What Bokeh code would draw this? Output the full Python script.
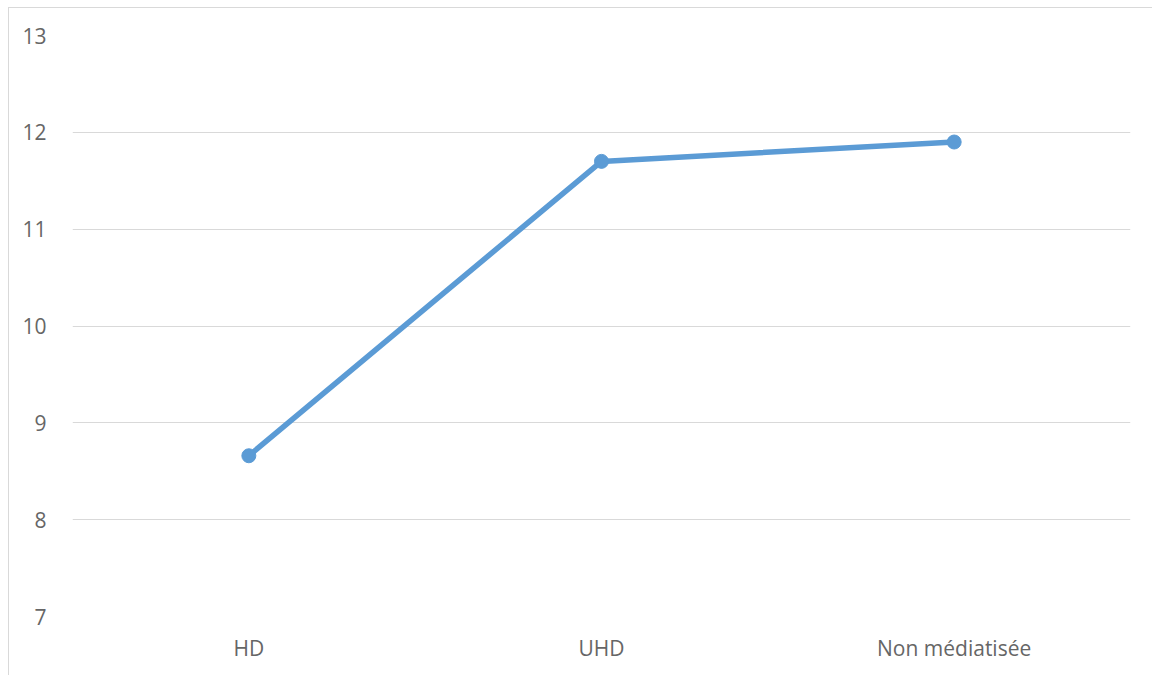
from bokeh.plotting import figure
from bokeh.models import FactorRange, Range1d, FixedTicker
from bokeh.embed import file_html
from bokeh.resources import INLINE

categories = ["HD", "UHD", "Non médiatisée"]
values = [8.66, 11.70, 11.90]
y_ticks = [7, 8, 9, 10, 11, 12, 13]

p = figure(x_range=FactorRange(*categories, range_padding=0),
           y_range=Range1d(7, 13),
           width=1144, height=668, output_backend="svg", toolbar_location=None,
           min_border_left=63, min_border_right=23, min_border_top=27, min_border_bottom=60)
p.margin = (7, 0, 0, 8)
p.styles = {"border-left": "1px solid #d9d9d9", "border-top": "1px solid #d9d9d9"}

p.line(categories, values, line_color="#5B9BD5", line_width=5.5)
p.scatter(categories, values, size=14, fill_color="#5B9BD5", line_color="#5B9BD5")

p.outline_line_color = None
p.xgrid.grid_line_color = None
p.ygrid.grid_line_color = "#d9d9d9"
p.ygrid.grid_line_width = 1
p.yaxis.ticker = FixedTicker(ticks=y_ticks)
for ax in (p.xaxis[0], p.yaxis[0]):
    ax.axis_line_color = None
    ax.major_tick_line_color = None
    ax.minor_tick_line_color = None
    ax.major_label_text_color = "#666666"
    ax.major_label_text_font = "Open Sans"
    ax.major_label_text_font_size = "21px"
p.yaxis.major_label_standoff = 20
p.xaxis.major_label_standoff = 11

open("out.html", "w").write(file_html(p, INLINE))
